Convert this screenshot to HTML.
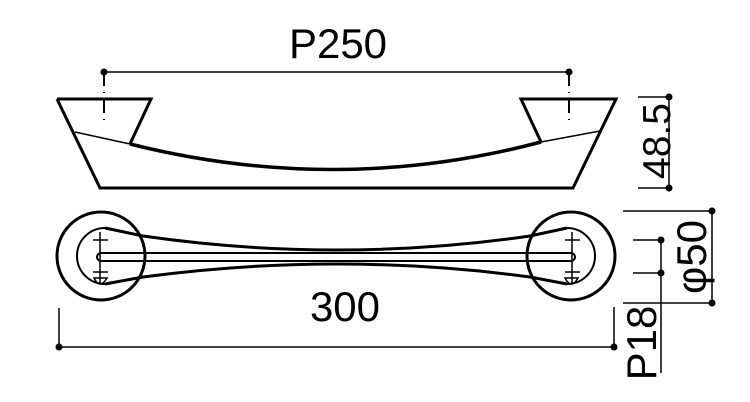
<!DOCTYPE html>
<html><head><meta charset="utf-8"><style>
html,body{margin:0;padding:0;background:#fff;}
svg{display:block}
text{font-family:"Liberation Sans",sans-serif;fill:#000}
</style></head><body>
<svg width="750" height="402" viewBox="0 0 750 402" xmlns="http://www.w3.org/2000/svg">
<g fill="none" stroke="#000" stroke-linejoin="miter">
<path d="M57,99 L151,99 L130,144 M57,99 L100,188 L573,188 L616,99 L521,99 L541,142" stroke-width="3"/>
<path d="M75,132 L130,144" stroke-width="1.5"/>
<path d="M130,144 Q337,196 541,142" stroke-width="3.5"/>
<path d="M541,142 L600,131" stroke-width="1.5"/>
<line x1="104" y1="72" x2="569" y2="72" stroke-width="1.5"/>
<path d="M104,72 V126 M569,72 V126" stroke-width="2" stroke-dasharray="14,6,1,6"/>
<line x1="669" y1="97" x2="669" y2="188" stroke-width="1.5"/>
<path d="M638,97 H669 M638,188 H669" stroke-width="1.5"/>
<circle cx="101" cy="256" r="44" stroke-width="3"/>
<circle cx="571" cy="256" r="44" stroke-width="3"/>
<path d="M105,228 A28,28 0 1 0 105,284" stroke-width="2"/>
<path d="M567,228 A28,28 0 1 1 567,284" stroke-width="2"/>
<path d="M105,228 L143,236 Q337,264 530,236 L567,228" stroke-width="3"/>
<path d="M105,284 L143,277 Q337,251 530,277 L567,284" stroke-width="3"/>
<path d="M101,253 H571 M101,261 H571" stroke-width="2"/>
<path d="M101,253 A4,4 0 0 0 101,261 M571,253 A4,4 0 0 1 571,261" stroke-width="2"/>
<path d="M100,232 V283 M93,240 H108 M93,272 H108" stroke-width="1.5"/>
<path d="M572,232 V283 M565,240 H580 M565,272 H580" stroke-width="1.5"/>
<path d="M94,278 Q100,290 107,278 Z M565,278 Q571,290 578,278 Z" stroke-width="1.5"/>
<path d="M59,308 V347 H614 V307" stroke-width="1.5"/>
<path d="M623,211 H712 V303 H623" stroke-width="1.5"/>
<path d="M633,240 H661 M633,273 H661 M661,240 V373" stroke-width="1.5"/>
</g>
<g fill="#000">
<circle cx="104" cy="72" r="3.5"/><circle cx="569" cy="72" r="3.5"/>
<circle cx="669" cy="97" r="3.5"/><circle cx="669" cy="188" r="3.5"/>
<circle cx="59" cy="347" r="3.5"/><circle cx="614" cy="347" r="3.5"/>
<circle cx="712" cy="211" r="3.5"/><circle cx="712" cy="303" r="3.5"/>
<circle cx="661" cy="240" r="3.5"/><circle cx="661" cy="273" r="3.5"/>
</g>
<text x="338" y="58" font-size="42" text-anchor="middle">P250</text>
<text x="345" y="321" font-size="42" text-anchor="middle">300</text>
<text transform="translate(670,141) rotate(-90)" font-size="39" text-anchor="middle">48.5</text>
<text transform="translate(706,257) rotate(-90)" font-size="42" text-anchor="middle">φ50</text>
<text transform="translate(656,343) rotate(-90)" font-size="42" text-anchor="middle">P18</text>
</svg>
</body></html>
